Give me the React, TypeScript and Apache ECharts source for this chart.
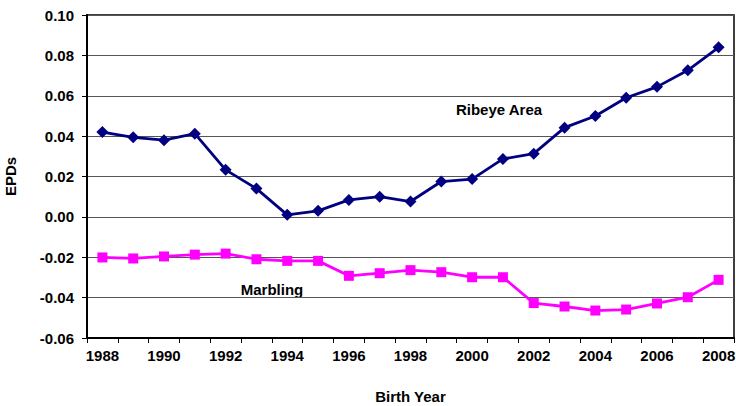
import React, { useEffect, useRef } from "react";
import * as echarts from "echarts";

const years = ["1988","1989","1990","1991","1992","1993","1994","1995","1996","1997","1998","1999","2000","2001","2002","2003","2004","2005","2006","2007","2008"];
const ribeyeArea = [0.042,0.0394,0.038,0.0412,0.0233,0.014,0.001,0.003,0.0084,0.010,0.0076,0.0175,0.0187,0.0287,0.0313,0.0442,0.050,0.059,0.0644,0.0726,0.084];
const marbling = [-0.0201,-0.0206,-0.0196,-0.0187,-0.0182,-0.021,-0.0218,-0.0218,-0.0292,-0.0279,-0.0264,-0.0274,-0.0299,-0.0299,-0.0427,-0.0444,-0.0464,-0.0459,-0.0429,-0.0398,-0.0312];
const yMin = -0.06;
const yMax = 0.1;
const yStep = 0.02;

const FONT = "'Liberation Sans', Arial, sans-serif";

export default function App() {
  const ref = useRef<HTMLDivElement>(null);
  useEffect(() => {
    if (!ref.current) return;
    const chart = echarts.init(ref.current, null, { renderer: "svg" });
    chart.setOption({
      animation: false,
      backgroundColor: "#ffffff",
      textStyle: { fontFamily: FONT },
      grid: {
        left: 87,
        right: 2,
        top: 15,
        bottom: 68,
        show: true,
        borderColor: "#000",
        borderWidth: 1.5,
        containLabel: false,
        outerBoundsMode: "none",
      },
      xAxis: {
        type: "category",
        data: years,
        boundaryGap: true,
        name: "Birth Year",
        nameLocation: "middle",
        nameGap: 51,
        nameTextStyle: { fontFamily: FONT, fontWeight: "bold", fontSize: 15, color: "#000" },
        axisLine: { onZero: false, lineStyle: { color: "#000", width: 2 } },
        axisTick: { show: true, interval: 0, length: 5, lineStyle: { color: "#000", width: 1 } },
        axisLabel: { interval: 1, margin: 10, fontFamily: FONT, fontWeight: "bold", fontSize: 15, color: "#000" },
        splitLine: { show: false },
      },
      yAxis: {
        type: "value",
        min: yMin,
        max: yMax,
        interval: yStep,
        name: "EPDs",
        nameLocation: "middle",
        nameRotate: 90,
        nameGap: 69,
        nameTextStyle: { fontFamily: FONT, fontWeight: "bold", fontSize: 15, color: "#000" },
        axisLine: { show: true, onZero: false, lineStyle: { color: "#000", width: 2 } },
        axisTick: { show: true, length: 5, lineStyle: { color: "#000", width: 1 } },
        axisLabel: {
          margin: 13,
          fontFamily: FONT,
          fontWeight: "bold",
          fontSize: 15,
          color: "#000",
          formatter: (v: number) => v.toFixed(2),
        },
        splitLine: { show: true, lineStyle: { color: "#555", width: 1 } },
      },
      series: [
        {
          name: "Ribeye Area",
          type: "line",
          data: ribeyeArea,
          symbol: "diamond",
          symbolSize: 12,
          lineStyle: { color: "#000080", width: 2.8 },
          itemStyle: { color: "#000080" },
          z: 3,
        },
        {
          name: "Marbling",
          type: "line",
          data: marbling,
          symbol: "rect",
          symbolSize: 10,
          lineStyle: { color: "#FF00FF", width: 2.8 },
          itemStyle: { color: "#FF00FF" },
          z: 3,
        },
      ],
      graphic: [
        {
          type: "text",
          x: 499,
          y: 109,
          style: {
            text: "Ribeye Area",
            fontFamily: FONT,
            fontWeight: "bold",
            fontSize: 15,
            fill: "#000",
            align: "center",
            verticalAlign: "middle",
          },
        },
        {
          type: "text",
          x: 272,
          y: 289,
          style: {
            text: "Marbling",
            fontFamily: FONT,
            fontWeight: "bold",
            fontSize: 15,
            fill: "#000",
            align: "center",
            verticalAlign: "middle",
          },
        },
      ],
    });
    return () => chart.dispose();
  }, []);
  return (
    <div
      ref={ref}
      style={{ position: "fixed", left: 0, top: 0, width: 736, height: 406 }}
    />
  );
}
